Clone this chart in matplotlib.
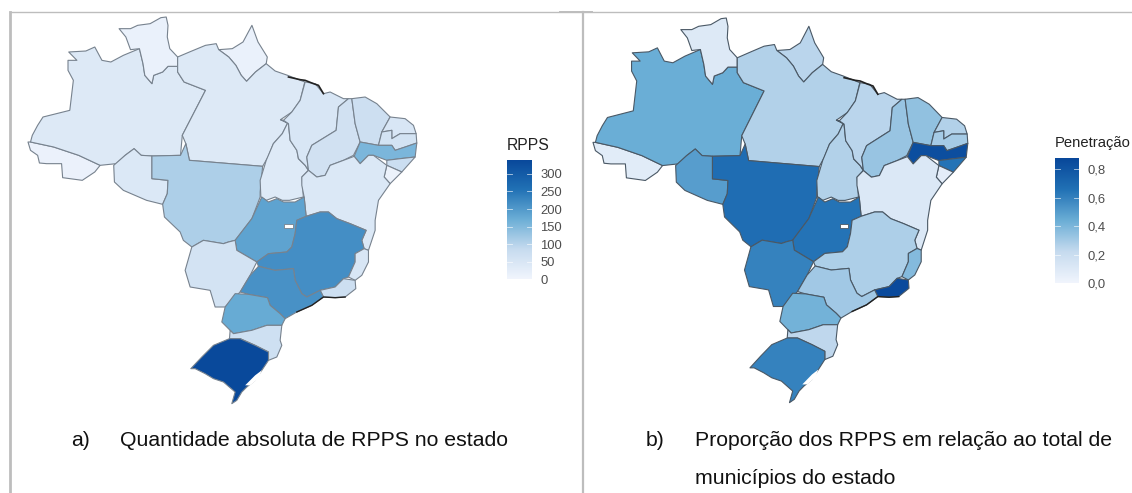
# plot.py - RPPS por estado, dois mapas lado a lado
import numpy as np
import matplotlib
matplotlib.use("Agg")
import matplotlib.pyplot as plt
from matplotlib.colors import LinearSegmentedColormap
from matplotlib.patches import Polygon
from matplotlib.lines import Line2D

plt.rcParams['font.family'] = ['Liberation Sans', 'DejaVu Sans']

# -----------------------
# data
# -----------------------
STATES = ["AC", "AM", "RR", "AP", "PA", "RO", "MT", "TO", "MA", "PI", "CE", "RN", "PB",
          "PE", "AL", "SE", "BA", "GO", "MS", "MG", "ES", "RJ", "SP", "PR", "SC", "RS"]
RPPS = [12, 40, 14, 14, 40, 45, 108, 38, 50, 65, 72, 50, 60,
        155, 75, 10, 45, 185, 60, 215, 50, 72, 210, 175, 70, 335]
PENETRACAO = [0.08, 0.44, 0.105, 0.25, 0.27, 0.50, 0.68, 0.27, 0.25, 0.33, 0.35, 0.27, 0.30,
              0.84, 0.65, 0.07, 0.11, 0.65, 0.60, 0.28, 0.38, 0.86, 0.31, 0.42, 0.24, 0.60]

RPPS_TICKS = [0, 50, 100, 150, 200, 250, 300]
RPPS_LABELS = ["0", "50", "100", "150", "200", "250", "300"]
PEN_TICKS = [0.0, 0.2, 0.4, 0.6, 0.8]
PEN_LABELS = ["0,0", "0,2", "0,4", "0,6", "0,8"]

def sul(pts):
    return [(504 + 0.9333 * x, 570 + y) for x, y in pts]

def ne(pts):
    return [(784 + 0.9333 * x, 210 + y) for x, y in pts]

AC = [(78,425),(85,425),(150,440),(220,465),(280,495),(265,515),(230,540),(175,532),(172,490),(130,490),(110,488),(105,465),(85,450)]
AM = [(192,155),(240,152),(265,140),(285,180),(310,185),(345,165),(390,145),(400,190),(405,225),(425,250),(430,225),(455,215),(470,198),(497,198),(497,215),(515,245),(575,270),(510,405),(505,465),(425,467),(395,465),(375,445),(350,465),(325,490),(280,495),(220,465),(150,440),(85,425),(90,405),(105,375),(120,350),(195,330),(205,240),(190,210),(190,180),(215,180)]
RR = [(333,85),(365,85),(385,75),(420,70),(450,52),(465,50),(470,75),(468,110),(475,145),(497,170),(497,198),(470,198),(455,215),(430,225),(425,250),(405,225),(400,190),(390,145),(365,148),(352,110)]
AP = [(612,148),(650,145),(680,125),(705,75),(722,125),(748,170),(745,190),(715,215),(690,243),(675,225),(660,195),(640,170)]
PA = [(497,170),(530,155),(575,135),(605,130),(612,148),(640,170),(660,195),(675,225),(690,243),(715,215),(745,190),(770,212),(805,225),(853,245),(840,300),(817,335),(785,358),(805,368),(790,400),(765,430),(750,470),(735,498),(530,480),(520,430),(510,405),(575,270),(515,245),(497,215)]
RO = [(318,495),(350,465),(375,445),(395,465),(425,467),(425,535),(470,540),(468,580),(455,612),(410,600),(345,570),(320,545)]
MT = [(425,467),(505,465),(520,430),(530,480),(735,498),(728,575),(728,590),(705,655),(658,720),(639,725),(625,730),(569,720),(537,740),(513,720),(504,695),(460,650),(455,612),(468,580),(470,540),(425,535)]
TO = [(785,358),(793,360),(807,370),(812,420),(831,450),(835,475),(854,495),(863,510),(845,530),(849,590),(810,600),(790,600),(770,590),(745,600),(730,590),(728,540),(745,480),(765,430),(790,400),(805,368)]
MA = ne([(75,35),(105,40),(130,70),(150,65),(190,85),(205,85),(175,110),(168,180),(95,225),(80,260),(85,300),(75,285),(55,265),(50,240),(30,210),(25,160),(10,150),(35,125),(60,90)])
PI = ne([(215,85),(225,160),(240,215),(220,255),(190,270),(150,285),(135,315),(110,320),(85,300),(80,260),(95,225),(168,180),(175,110),(205,85)])
CE = ne([(215,85),(255,80),(290,100),(330,140),(305,185),(295,225),(240,215),(225,160)])
RN = ne([(330,140),(375,145),(400,165),(408,190),(360,190),(335,205),(335,180),(305,185)])
PB = ne([(305,185),(335,180),(335,205),(360,190),(408,190),(410,218),(375,230),(345,240),(335,225),(295,225)])
PE = ne([(240,215),(295,225),(335,225),(345,240),(375,230),(410,218),(405,260),(360,265),(320,270),(280,255),(265,255),(240,280),(222,258)])
AL = ne([(320,270),(360,265),(405,260),(365,305),(320,285)])
SE = ne([(320,285),(365,305),(330,340),(312,320)])
BA = ne([(85,300),(110,320),(135,315),(150,285),(190,270),(222,258),(240,280),(265,255),(280,255),(320,285),(312,320),(330,340),(295,390),(285,450)]) + \
     sul([(585,120),(575,150),(565,180),(552,175),(545,150),(558,120),(510,100),(470,85),(445,65),(420,65),(378,78),(372,20)]) + \
     ne([(65,345),(65,320)])
GO = sul([(245,20),(265,35),(290,25),(310,35),(345,35),(372,20),(378,78),(350,90),(345,130),(335,170),(320,185),(265,190),(230,215),(170,180),(165,150),(215,85)])
DF = sul([(312,100),(338,100),(338,114),(312,114)])
MS = sul([(35,170),(70,150),(130,160),(145,155),(165,150),(170,180),(230,215),(210,255),(180,305),(135,350),(105,350),(90,300),(30,290),(15,240)])
MG = sul([(350,90),(378,78),(420,65),(445,65),(470,85),(510,100),(558,120),(545,150),(552,175),(525,190),(525,215),(505,260),(490,265),(465,290),(420,300),(380,320),(365,310),(345,270),(340,235),(285,240),(235,228),(230,215),(265,190),(320,185),(335,170),(345,130)])
ES = sul([(525,190),(552,175),(565,180),(565,215),(545,255),(525,270),(505,260),(525,215)])
RJ = sul([(420,300),(465,290),(490,265),(525,270),(527,295),(495,320),(465,322),(430,320)])
SP = sul([(235,228),(285,240),(340,235),(345,270),(365,310),(380,320),(420,300),(430,320),(395,345),(350,365),(315,385),(300,370),(270,345),(262,322),(205,312),(180,305),(210,255)])
PR = sul([(165,310),(205,312),(262,322),(270,345),(300,370),(315,385),(305,405),(260,405),(215,420),(160,430),(125,395),(135,350)])
SC = sul([(150,420),(160,430),(215,420),(260,405),(305,405),(300,450),(305,465),(290,500),(265,510),(265,485),(225,465),(180,445),(148,445)])
RS = sul([(148,445),(180,445),(225,465),(265,485),(265,510),(245,540),(225,570),(200,590),(185,605),(170,630),(155,640),(165,605),(130,575),(100,565),(75,550),(45,535),(32,535),(65,500),(100,465)])
LAGOA = sul([(195,585),(225,555),(245,540),(235,565),(210,585)])
COSTA_N = ne([(25,20),(60,28),(75,30),(100,40),(115,45),(130,70)])
COSTA_S = sul([(350,365),(395,345),(430,320),(465,322),(495,320)])

SHAPES = [AC, AM, RR, AP, PA, RO, MT, TO, MA, PI, CE, RN, PB,
          PE, AL, SE, BA, GO, MS, MG, ES, RJ, SP, PR, SC, RS]

# -----------------------
# helpers
# -----------------------
W, H = 1132, 493
cmap = LinearSegmentedColormap.from_list(
    "azuis", ["#f1f5fd", "#c6dbef", "#6baed6", "#2171b5", "#08479a"])

def axes_px(fig, x0, y0, x1, y1):
    # axes box given in picture pixels, y from top
    return fig.add_axes([x0 / W, 1 - y1 / H, (x1 - x0) / W, (y1 - y0) / H])

def draw_map(fig, values, vmax, box, origin, sx, sy, edge):
    x0, y0, x1, y1 = box
    ax = axes_px(fig, x0, y0, x1, y1)
    ax.set_xlim(78 + (x0 - origin[0]) / sx, 78 + (x1 - origin[0]) / sx)
    ax.set_ylim(50 + (y1 - origin[1]) / sy, 50 + (y0 - origin[1]) / sy)
    ax.axis("off")
    for shape, val in zip(SHAPES, values):
        ax.add_patch(Polygon(shape, closed=True, facecolor=cmap(val / vmax),
                             edgecolor=edge, lw=0.8, joinstyle="round"))
    ax.add_patch(Polygon(DF, closed=True, facecolor="white", edgecolor=edge, lw=0.6))
    ax.add_patch(Polygon(LAGOA, closed=True, facecolor="white", edgecolor="none"))
    for coast, lw in [(COSTA_N, 1.2), (COSTA_S, 1.0)]:
        ax.plot(*zip(*coast), color="#222222", lw=lw)

def draw_legend(fig, title, vmax, ticks, labels, box, title_xy, pad, title_size):
    ax = axes_px(fig, *box)
    grad = np.linspace(0, 1, 256).reshape(-1, 1)
    ax.imshow(grad, origin="lower", aspect="auto", cmap=cmap, extent=[0, 1, 0, vmax])
    for t in ticks:
        ax.plot([0, 0.2], [t, t], color="white", lw=0.6, alpha=0.7)
        ax.plot([0.8, 1], [t, t], color="white", lw=0.6, alpha=0.7)
    ax.set_xlim(0, 1)
    ax.set_ylim(0, vmax)
    ax.set_xticks([])
    ax.yaxis.tick_right()
    ax.set_yticks(ticks)
    ax.set_yticklabels(labels, fontsize=9.4, color="#4d4d4d")
    ax.tick_params(axis="y", length=0, pad=pad)
    for s in ax.spines.values():
        s.set_visible(False)
    fig.text(title_xy[0] / W, 1 - title_xy[1] / H, title, fontsize=title_size,
             color="#222222", va="center", ha="left")

# -----------------------
# main
# -----------------------
fig = plt.figure(figsize=(W / 100, H / 100), dpi=100, facecolor="white")

draw_map(fig, RPPS, 340, (14, 10, 440, 415), (28, 17), 1 / 2.8, 1 / 3, "#77828e")
draw_map(fig, PENETRACAO, 0.88, (585, 10, 1000, 415), (593, 18),
         (375 / 389) / 2.8, (384 / 386) / 3, "#4a5865")

draw_legend(fig, "RPPS", 340, RPPS_TICKS, RPPS_LABELS, (507, 160, 532, 279), (507, 146), 6, 11.3)
draw_legend(fig, "Penetração", 0.88, PEN_TICKS, PEN_LABELS, (1055, 158, 1079, 283), (1055, 143), 6, 10.6)

# frame lines of the original table
for xs, ys, lw in [((10, 1132), (11.5, 11.5), 1.0), ((10, 10), (11.5, 493), 2.0),
                   ((582.5, 582.5), (11.5, 493), 1.6), ((560, 592), (12, 12), 1.4)]:
    fig.add_artist(Line2D([x / W for x in xs], [1 - y / H for y in ys],
                          color="#bdbdbd", lw=lw))

CAPTION = 15.3
for x, y, txt in [(71, 440, "a)"), (120, 440, "Quantidade absoluta de RPPS no estado"),
                  (646, 441, "b)"), (695, 441, "Proporção dos RPPS em relação ao total de"),
                  (695, 478, "municípios do estado")]:
    fig.text(x / W, 1 - y / H, txt, fontsize=CAPTION, color="#111111", va="center", ha="left")

fig.savefig("out.png", dpi=100)
